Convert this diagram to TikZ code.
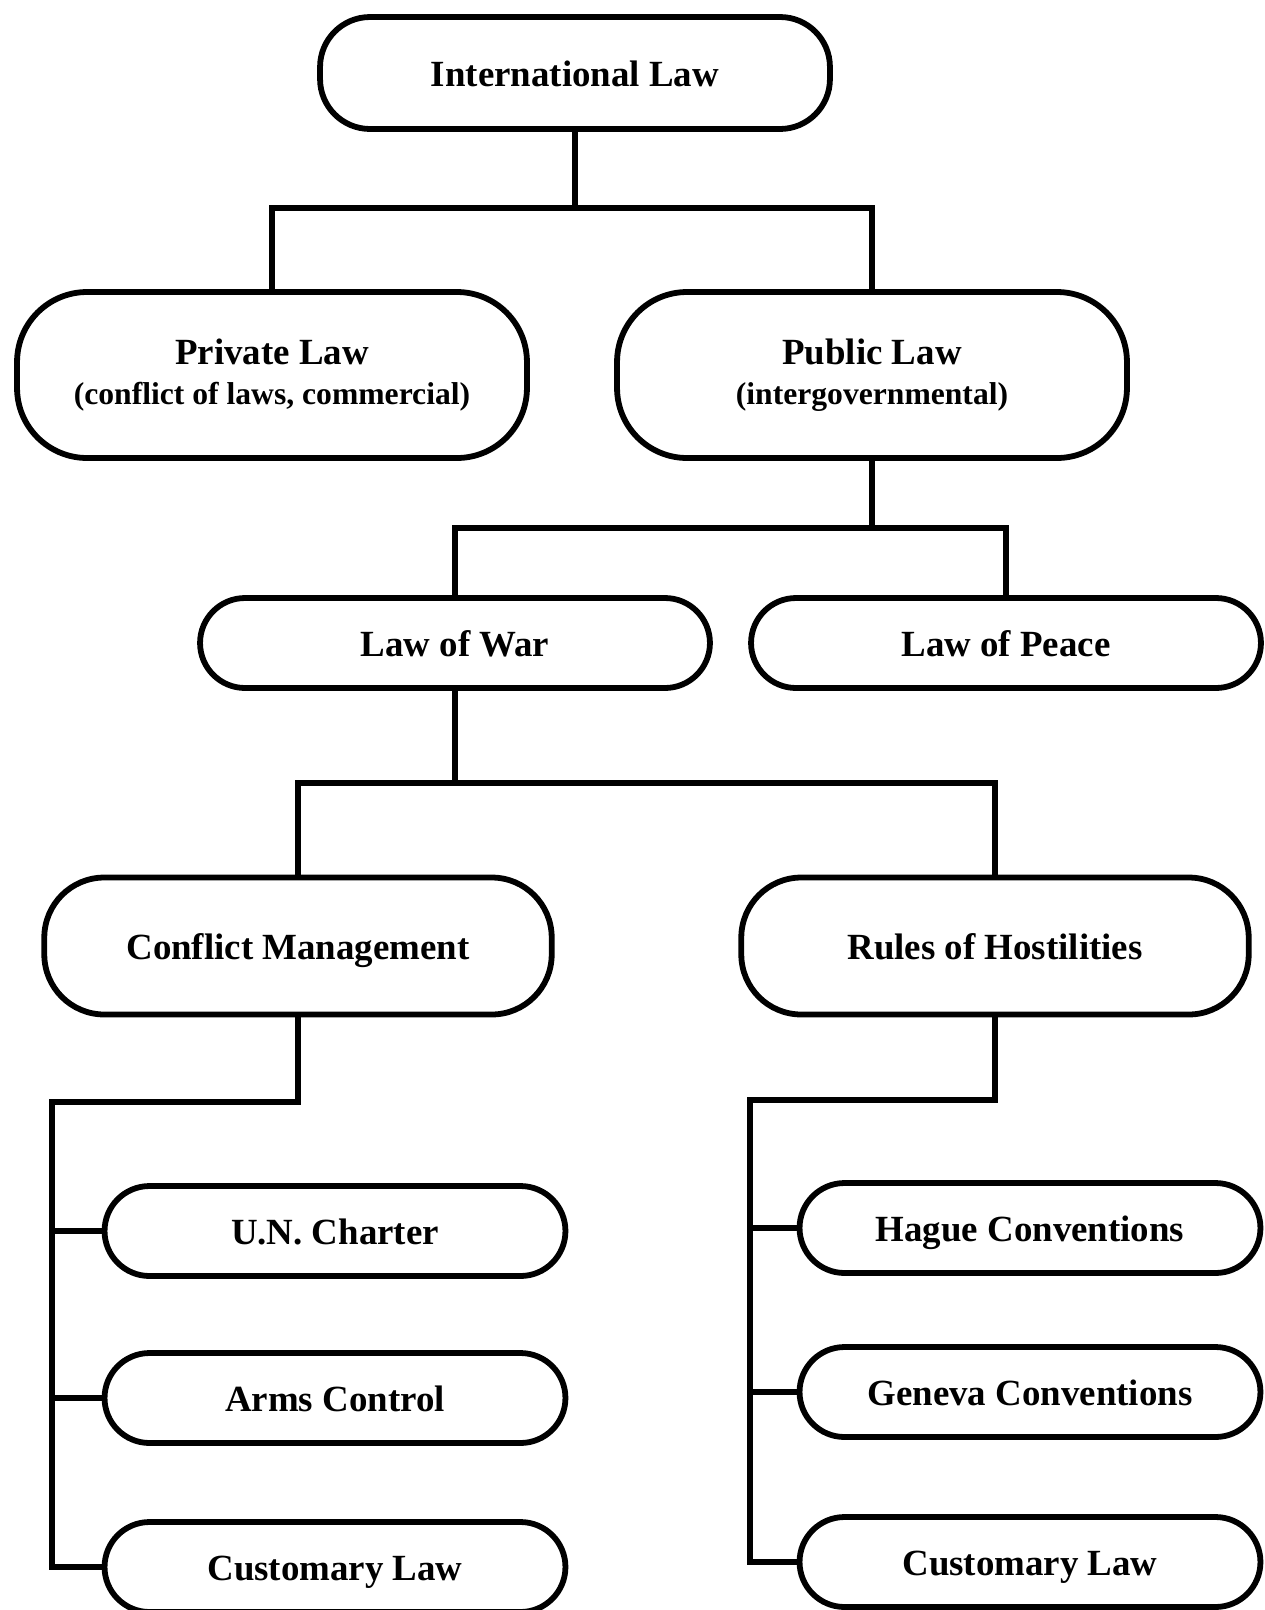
\documentclass[tikz,border=0pt]{standalone}
\usepackage{fontspec}
\setmainfont{Liberation Serif}
\usetikzlibrary{positioning}

\begin{document}
\begin{tikzpicture}[
    x=0.02cm, y=-0.02cm,
    font=\fontsize{21}{23}\selectfont\bfseries,
    box/.style={draw,rectangle,line width=3.3pt,align=center,inner sep=0pt},
    oneline/.style={text height=19pt,text depth=4pt},
    topbox/.style={box,oneline,minimum width=10.2cm,minimum height=2.24cm,rounded corners=1cm},
    lawbox/.style={box,minimum width=10.2cm,minimum height=3.32cm,rounded corners=1.4cm},
    branch/.style={box,oneline,minimum width=10.2cm,minimum height=1.8cm,rounded corners=0.9cm},
    areabox/.style={box,oneline,minimum width=10.15cm,minimum height=2.74cm,rounded corners=1.2cm},
    leaf/.style={box,oneline,minimum width=9.22cm,minimum height=1.8cm,rounded corners=0.9cm},
    line/.style={line width=3pt}
]
\useasboundingbox (0,0) rectangle (1265,1610);

% === Root ===
\node[topbox] (intl) at (575,73) {International Law};

% === Private / Public ===
\node[lawbox] (priv) at (272,375) {Private Law\\{\fontsize{18}{20}\selectfont (conflict of laws, commercial)}};
\node[lawbox] (pub) at (872,375) {Public Law\\{\fontsize{18}{20}\selectfont (intergovernmental)}};

\coordinate (j1) at (575,208);
\draw[line] (intl.south) -- (j1);
\draw[line] (priv.north) |- (j1) -| (pub.north);

% === War / Peace ===
\node[branch] (war) at (455,643) {Law of War};
\node[branch] (peace) at (1006,643) {Law of Peace};

\coordinate (j2) at (872,528);
\draw[line] (pub.south) -- (j2);
\draw[line] (war.north) |- (j2) -| (peace.north);

% === Law of War branches ===
\node[areabox] (cm) at (298,946) {Conflict Management};
\node[areabox] (rh) at (995,946) {Rules of Hostilities};

\coordinate (j3) at (455,783);
\draw[line] (war.south) -- (j3);
\draw[line] (cm.north) |- (j3) -| (rh.north);

% === Conflict Management leaves ===
\node[leaf] (un) at (335,1231) {U.N. Charter};
\node[leaf] (arms) at (335,1398) {Arms Control};
\node[leaf] (cl1) at (335,1567) {Customary Law};

\coordinate (c1) at (52,1102);
\draw[line] (cm.south) |- (c1) |- (cl1.west);
\draw[line] (c1) |- (un.west);
\draw[line] (c1) |- (arms.west);

% === Rules of Hostilities leaves ===
\node[leaf] (hague) at (1030,1228) {Hague Conventions};
\node[leaf] (geneva) at (1030,1392) {Geneva Conventions};
\node[leaf] (cl2) at (1030,1562) {Customary Law};

\coordinate (c2) at (750,1100);
\draw[line] (rh.south) |- (c2) |- (cl2.west);
\draw[line] (c2) |- (hague.west);
\draw[line] (c2) |- (geneva.west);

\end{tikzpicture}
\end{document}
